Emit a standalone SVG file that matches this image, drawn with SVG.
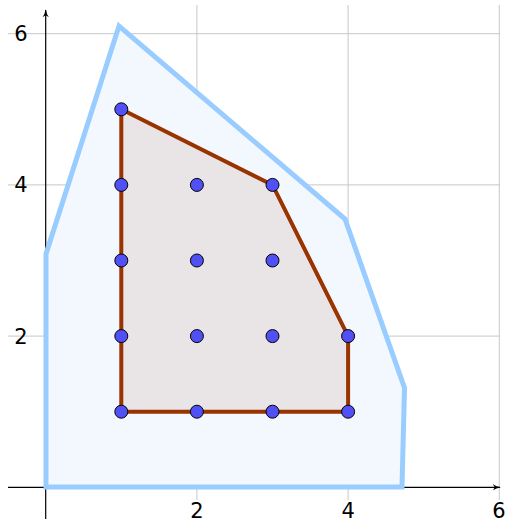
<svg xmlns="http://www.w3.org/2000/svg" width="507" height="524" viewBox="0 0 507 524">
<style>
.grid{stroke:#c8c8c8;stroke-width:1;fill:none}
.axis{stroke:#000;stroke-width:1.2;fill:none}
.lbl{font-family:"DejaVu Sans","Liberation Sans",sans-serif;font-size:21px;fill:#000}
.dot{fill:#5050f5;stroke:#000;stroke-width:1}
</style>
<defs>
<marker id="arr" viewBox="0 0 10 10" refX="9" refY="5" markerWidth="8" markerHeight="8" markerUnits="userSpaceOnUse" orient="auto">
<path d="M0,1 Q4,4 10,5 Q4,6 0,9 L2.5,5 Z" fill="#000"/>
</marker>
</defs>
<rect width="507" height="524" fill="#fff"/>
<g id="grid">
<line class="grid" x1="196.9" y1="5" x2="196.9" y2="500"/>
<line class="grid" x1="348.1" y1="5" x2="348.1" y2="500"/>
<line class="grid" x1="499.3" y1="5" x2="499.3" y2="500"/>
<line class="grid" x1="8" y1="336.1" x2="500" y2="336.1"/>
<line class="grid" x1="8" y1="184.9" x2="500" y2="184.9"/>
<line class="grid" x1="8" y1="33.7" x2="500" y2="33.7"/>
</g>
<g id="axes">
<line class="axis" x1="8" y1="487.3" x2="500" y2="487.3" marker-end="url(#arr)"/>
<line class="axis" x1="45.7" y1="519" x2="45.7" y2="10" marker-end="url(#arr)"/>
</g>
<g id="outer">
<polygon points="46,487 402,487 404.5,388 345,219 119,26 46,254" fill="#f3f8fe" stroke="#99ccff" stroke-width="5" stroke-linejoin="miter"/>
</g>
<g id="inner">
<polygon points="121.3,411.7 348.1,411.7 348.1,336.1 272.5,184.9 121.3,109.3" fill="#e9e4e6" stroke="#993300" stroke-width="4" stroke-linejoin="miter"/>
</g>
<g id="labels">
<text class="lbl" x="196.9" y="518" text-anchor="middle">2</text>
<text class="lbl" x="348.1" y="518" text-anchor="middle">4</text>
<text class="lbl" x="499" y="518" text-anchor="middle">6</text>
<text class="lbl" x="21" y="343.5" text-anchor="middle">2</text>
<text class="lbl" x="21" y="192.3" text-anchor="middle">4</text>
<text class="lbl" x="21" y="41.1" text-anchor="middle">6</text>
</g>
<g id="points">
<circle class="dot" cx="121.3" cy="411.7" r="6.5"/>
<circle class="dot" cx="196.9" cy="411.7" r="6.5"/>
<circle class="dot" cx="272.5" cy="411.7" r="6.5"/>
<circle class="dot" cx="348.1" cy="411.7" r="6.5"/>
<circle class="dot" cx="121.3" cy="336.1" r="6.5"/>
<circle class="dot" cx="196.9" cy="336.1" r="6.5"/>
<circle class="dot" cx="272.5" cy="336.1" r="6.5"/>
<circle class="dot" cx="348.1" cy="336.1" r="6.5"/>
<circle class="dot" cx="121.3" cy="260.5" r="6.5"/>
<circle class="dot" cx="196.9" cy="260.5" r="6.5"/>
<circle class="dot" cx="272.5" cy="260.5" r="6.5"/>
<circle class="dot" cx="121.3" cy="184.9" r="6.5"/>
<circle class="dot" cx="196.9" cy="184.9" r="6.5"/>
<circle class="dot" cx="272.5" cy="184.9" r="6.5"/>
<circle class="dot" cx="121.3" cy="109.3" r="6.5"/>
</g>
</svg>
